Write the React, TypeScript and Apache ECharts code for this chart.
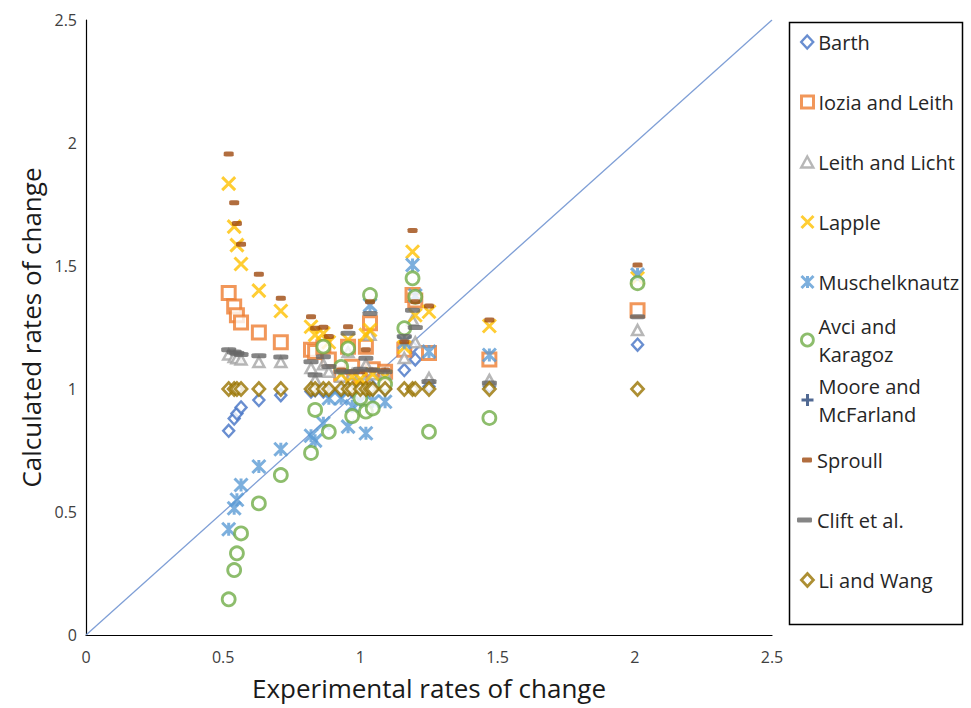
import React, { useEffect, useRef } from 'react';
import * as echarts from 'echarts';

// Experimental rates of change (shared x values)
const X = [0.52, 0.54, 0.55, 0.565, 0.63, 0.71, 0.82, 0.835, 0.865, 0.885, 0.93, 0.955, 0.97, 1.0, 1.02, 1.035, 1.045, 1.09, 1.16, 1.19, 1.2, 1.25, 1.47, 2.01];

// Calculated rates of change, per model
const barth = [0.83, 0.88, 0.9, 0.925, 0.955, 0.975, 0.99, 0.995, 0.99, 0.99, 0.99, 1.0, 0.99, 1.0, 0.99, 1.02, 1.0, 1.0, 1.077, 1.17, 1.12, 1.01, 1.01, 1.18];
const iozia = [1.39, 1.335, 1.3, 1.27, 1.23, 1.19, 1.16, 1.15, 1.17, 1.12, 1.06, 1.172, 1.09, 1.05, 1.172, 1.267, 1.08, 1.07, 1.16, 1.382, 1.36, 1.146, 1.12, 1.32];
const leith = [1.14, 1.13, 1.125, 1.12, 1.11, 1.11, 1.085, 1.037, 1.1, 1.07, 1.05, 1.15, 1.06, 1.06, 1.1, 1.22, 1.06, 1.06, 1.126, 1.28, 1.19, 1.045, 1.037, 1.24];
const lapple = [1.835, 1.66, 1.585, 1.508, 1.4, 1.317, 1.253, 1.22, 1.226, 1.19, 1.06, 1.2, 1.05, 1.04, 1.22, 1.24, 1.06, 1.05, 1.17, 1.558, 1.3, 1.314, 1.256, 1.45];
const musch = [0.43, 0.515, 0.55, 0.61, 0.685, 0.755, 0.81, 0.79, 0.861, 0.962, 0.962, 0.847, 0.93, 0.95, 0.82, 1.341, 0.95, 0.948, 1.19, 1.504, 1.38, 1.152, 1.138, 1.465];
const avci = [0.145, 0.264, 0.332, 0.413, 0.535, 0.65, 0.74, 0.915, 1.172, 0.826, 1.09, 1.165, 0.89, 0.963, 0.908, 1.382, 0.921, 1.02, 1.247, 1.45, 1.375, 0.826, 0.882, 1.43];
const moore: number[] = [];
const sproull = [1.955, 1.757, 1.673, 1.588, 1.466, 1.369, 1.294, 1.247, 1.251, 1.213, 1.077, 1.253, 1.07, 1.07, 1.16, 1.355, 1.077, 1.077, 1.192, 1.644, 1.355, 1.337, 1.28, 1.504];
const clift = [1.16, 1.15, 1.145, 1.14, 1.135, 1.13, 1.111, 1.057, 1.131, 1.091, 1.07, 1.227, 1.07, 1.08, 1.125, 1.307, 1.077, 1.07, 1.213, 1.32, 1.25, 1.03, 1.024, 1.294];
const liWang = [1, 1, 1, 1, 1, 1, 1, 1, 1, 1, 1, 1, 1, 1, 1, 1, 1, 1, 1, 1, 1, 1, 1, 1];

const seriesNames = ['Barth', 'Iozia and Leith', 'Leith and Licht', 'Lapple', 'Muschelknautz', 'Avci and Karagoz', 'Moore and McFarland', 'Sproull', 'Clift et al.', 'Li and Wang'];
const seriesValues = [barth, iozia, leith, lapple, musch, avci, moore, sproull, clift, liWang];
const diagonal = [[0, 0], [2.5, 2.5]];
const legendLabels: Record<string, string> = {
  'Avci and Karagoz': 'Avci and\nKaragoz',
  'Moore and McFarland': 'Moore and\nMcFarland',
};

const FONT = '"Open Sans", "Noto Sans", sans-serif';
const X_PATH = 'path://M0,0L10,10M10,0L0,10';
const STAR_PATH = 'path://M0,0L10,10M10,0L0,10M5,0L5,10';
const PLUS_PATH = 'path://M5,0L5,10M0,5L10,5';

const styles: any[] = [
  { symbol: 'diamond', size: [11, 12], itemStyle: { color: '#fff', borderColor: '#4472C4', borderWidth: 2.4 }, lg: { top: 28, w: 12, h: 13 } },
  { symbol: 'rect', size: [13, 13], itemStyle: { color: '#fff', borderColor: '#ED7D31', borderWidth: 3 }, lg: { top: 88, w: 12, h: 12 } },
  { symbol: 'triangle', size: [11, 10], itemStyle: { color: '#fff', borderColor: '#A5A5A5', borderWidth: 2.5 }, lg: { top: 148, w: 12, h: 11 } },
  { symbol: X_PATH, size: [13, 13], itemStyle: { color: 'rgba(0,0,0,0)', borderColor: '#FFC000', borderWidth: 3 }, lg: { top: 208, w: 12, h: 12 } },
  { symbol: STAR_PATH, size: [13, 13], itemStyle: { color: 'rgba(0,0,0,0)', borderColor: '#5B9BD5', borderWidth: 3 }, lg: { top: 268, w: 12, h: 12 } },
  { symbol: 'circle', size: [13, 13], itemStyle: { color: '#fff', borderColor: '#70AD47', borderWidth: 2.8 }, lg: { top: 298, w: 12, h: 12, two: true } },
  { symbol: PLUS_PATH, size: [12, 12], itemStyle: { color: 'rgba(0,0,0,0)', borderColor: '#264478', borderWidth: 3 }, lg: { top: 358, w: 12, h: 12, two: true } },
  { symbol: 'roundRect', size: [10, 5], itemStyle: { color: '#9E480E' }, lg: { top: 446, w: 10, h: 5 } },
  { symbol: 'roundRect', size: [15, 5], itemStyle: { color: '#666666' }, lg: { top: 506, w: 15, h: 5 } },
  { symbol: 'diamond', size: [12, 13], itemStyle: { color: '#fff', borderColor: '#997300', borderWidth: 2.8 }, lg: { top: 566, w: 12, h: 13 } },
];

export default function App() {
  const ref = useRef<HTMLDivElement>(null);
  useEffect(() => {
    if (!ref.current) return;
    const chart = echarts.init(ref.current, null, { renderer: 'svg' });
    const series: any[] = [
      {
        type: 'line',
        name: 'diagonal',
        data: diagonal,
        symbol: 'none',
        lineStyle: { color: '#7F9FD6', width: 1.3 },
        silent: true,
        z: 1,
      },
    ];
    seriesNames.forEach((name, i) => {
      const st = styles[i];
      series.push({
        type: 'scatter',
        name,
        data: seriesValues[i].map((v, j) => [X[j], v]),
        symbol: st.symbol,
        symbolSize: st.size,
        itemStyle: st.itemStyle,
        z: 2,
      });
    });
    const legends = seriesNames.map((name, i) => {
      const st = styles[i];
      const lg = st.lg;
      return {
        data: [name],
        left: 812 - lg.w,
        top: lg.top,
        padding: 0,
        itemWidth: lg.w,
        itemHeight: lg.h,
        selectedMode: false,
        itemStyle: st.itemStyle.borderWidth ? { borderWidth: st.itemStyle.borderWidth } : {},
        formatter: (n: string) => legendLabels[n] || n,
        textStyle: {
          fontFamily: FONT,
          fontSize: 20,
          color: '#262626',
          lineHeight: 28,
          padding: lg.two ? [28, 0, 0, 0] : 0,
        },
      };
    });
    chart.setOption({
      animation: false,
      backgroundColor: '#fff',
      grid: { left: 86, right: 199, top: 20, bottom: 73, containLabel: false },
      xAxis: {
        type: 'value',
        min: 0,
        max: 2.5,
        interval: 0.5,
        name: 'Experimental rates of change',
        nameLocation: 'middle',
        nameGap: 40,
        nameTextStyle: { fontFamily: FONT, fontSize: 26, color: '#1a1a1a' },
        axisLine: { lineStyle: { color: '#000', width: 1.2 } },
        axisTick: { show: false },
        splitLine: { show: false },
        axisLabel: { fontFamily: FONT, fontSize: 16, color: '#404040', margin: 14 },
      },
      yAxis: {
        type: 'value',
        min: 0,
        max: 2.5,
        interval: 0.5,
        name: 'Calculated rates of change',
        nameLocation: 'middle',
        nameGap: 42,
        nameTextStyle: { fontFamily: FONT, fontSize: 26, color: '#1a1a1a' },
        axisLine: { show: true, lineStyle: { color: '#000', width: 1.2 } },
        axisTick: { show: false },
        splitLine: { show: false },
        axisLabel: { fontFamily: FONT, fontSize: 16, color: '#404040', margin: 9 },
      },
      legend: legends,
      graphic: [
        {
          type: 'rect',
          shape: { x: 789.5, y: 22.5, width: 173, height: 602 },
          style: { fill: 'none', stroke: '#000', lineWidth: 1.5 },
          silent: true,
          z: -1,
        },
      ],
      series,
    });
    return () => chart.dispose();
  }, []);
  return <div ref={ref} style={{ position: 'fixed', left: 0, top: 0, width: 971, height: 708 }} />;
}
